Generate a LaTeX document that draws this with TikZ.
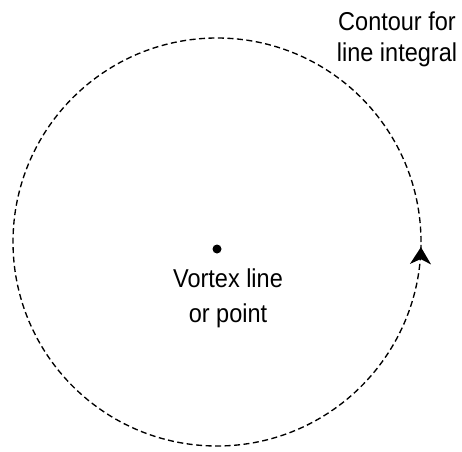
\documentclass[tikz,border=0pt]{standalone}
\usepackage{fontspec}
\setmainfont{Liberation Sans}
\usetikzlibrary{arrows.meta,decorations.markings}

\begin{document}
\begin{tikzpicture}[x=1pt,y=1pt,
  contour/.style={dash pattern=on 6pt off 3.5pt, line width=1.35pt},
  note/.style={align=center, inner sep=0pt, yscale=1.1, transform shape},
  flowtip/.style={postaction={decorate}, decoration={markings,
      mark=at position 0.996 with {\arrow{Stealth[length=17pt,width=21pt,inset=5pt]}}}}]
  \useasboundingbox (0,0) rectangle (462,451);
  \coordinate (centre) at (217,209);
  % contour round the vortex
  \draw[contour, flowtip] (centre) ++(0:204) arc[start angle=0, end angle=360, radius=204];
  \node[circle, fill, inner sep=0pt, minimum size=9pt] (core) at (217,202) {};
  \node[note, anchor=north, font=\fontsize{23.5}{31}\selectfont] (vortex) at (228,182) {Vortex line\\or point};
  \node[note, anchor=north, font=\fontsize{23.5}{28}\selectfont] (contourtext) at (397,439) {Contour for\\line integral};
\end{tikzpicture}
\end{document}
